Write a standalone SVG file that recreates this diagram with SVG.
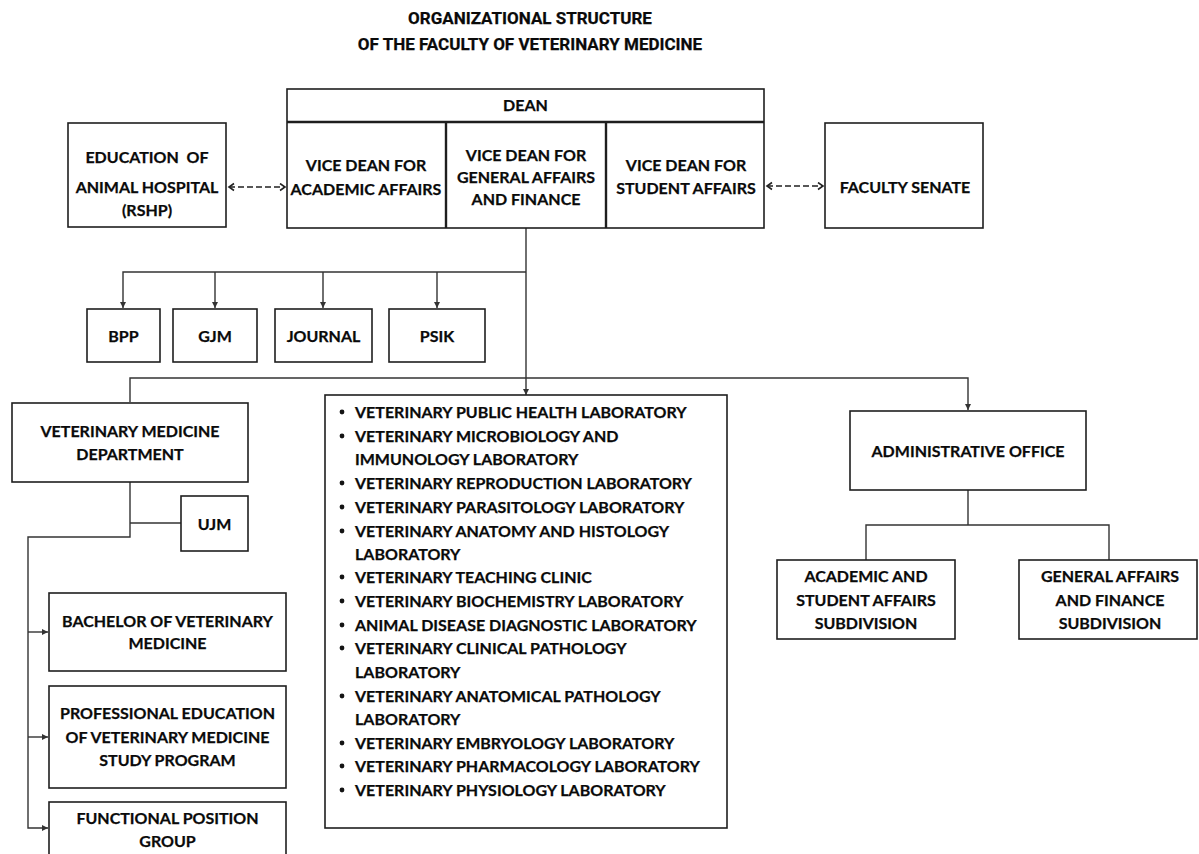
<svg xmlns="http://www.w3.org/2000/svg" width="1199" height="854" viewBox="0 0 1199 854">
<style>
text{font-family:Lato,"Liberation Sans",sans-serif;font-weight:bold;font-size:16px;fill:#0a0a0a;stroke:#0a0a0a;stroke-width:0.25;text-anchor:middle}
.list text{text-anchor:start}
.title{font-family:Roboto,"Liberation Sans",sans-serif;font-size:17px}
.box{fill:#fff;stroke:#1e1e1e;stroke-width:1.6}
.div{stroke:#1e1e1e;stroke-width:2.4}
.con{fill:none;stroke:#333;stroke-width:1.4}
.dash{fill:none;stroke:#222;stroke-width:1.7;stroke-dasharray:6 3}
</style>
<defs>
<marker id="ah" markerUnits="userSpaceOnUse" markerWidth="8" markerHeight="8" refX="6" refY="3.5" orient="auto">
<path d="M0,0.5 L6,3.5 L0,6.5 Z" fill="#333"/>
</marker>
<marker id="ch" markerUnits="userSpaceOnUse" markerWidth="9" markerHeight="10" refX="7" refY="4.5" orient="auto-start-reverse">
<path d="M2,1 L7,4.5 L2,8" fill="none" stroke="#222" stroke-width="1.6"/>
</marker>
</defs>
<rect width="1199" height="854" fill="#fff"/>
<g id="title">
<text class="title" x="530" y="24">ORGANIZATIONAL STRUCTURE</text>
<text class="title" x="530" y="50">OF THE FACULTY OF VETERINARY MEDICINE</text>
</g>
<g id="connectors">
<line class="dash" x1="229" y1="187" x2="285" y2="187" marker-start="url(#ch)" marker-end="url(#ch)"/>
<line class="dash" x1="767" y1="186" x2="823" y2="186" marker-start="url(#ch)" marker-end="url(#ch)"/>
<line class="con" x1="526" y1="228" x2="526" y2="395" marker-end="url(#ah)"/>
<polyline class="con" points="526,272 123,272 123,308" marker-end="url(#ah)"/>
<line class="con" x1="215" y1="272" x2="215" y2="308" marker-end="url(#ah)"/>
<line class="con" x1="323" y1="272" x2="323" y2="308" marker-end="url(#ah)"/>
<line class="con" x1="437" y1="272" x2="437" y2="308" marker-end="url(#ah)"/>
<polyline class="con" points="130,402 130,378 968,378 968,410" marker-end="url(#ah)"/>
<polyline class="con" points="130,482 130,537 28,537 28,828 48,828" marker-end="url(#ah)"/>
<line class="con" x1="130" y1="523" x2="181" y2="523"/>
<line class="con" x1="28" y1="632" x2="48" y2="632" marker-end="url(#ah)"/>
<line class="con" x1="28" y1="737" x2="48" y2="737" marker-end="url(#ah)"/>
<line class="con" x1="968" y1="490" x2="968" y2="525"/>
<polyline class="con" points="866,560 866,525 1109,525 1109,560"/>
</g>
<g id="dean">
<rect class="box" x="287" y="89" width="477" height="139"/>
<line class="div" x1="287" y1="122" x2="764" y2="122"/>
<line class="div" x1="446" y1="122" x2="446" y2="228"/>
<line class="div" x1="606" y1="122" x2="606" y2="228"/>
<text x="525.5" y="111">DEAN</text>
</g>
<g id="vd-academic">
<text x="366" y="171">VICE DEAN FOR</text>
<text x="366" y="195">ACADEMIC AFFAIRS</text>
</g>
<g id="vd-general">
<text x="526" y="161">VICE DEAN FOR</text>
<text x="526" y="183">GENERAL AFFAIRS</text>
<text x="526" y="205">AND FINANCE</text>
</g>
<g id="vd-student">
<text x="686" y="171">VICE DEAN FOR</text>
<text x="686" y="194">STUDENT AFFAIRS</text>
</g>
<g id="rshp">
<rect class="box" x="68" y="123" width="158" height="104"/>
<text x="147" y="163" xml:space="preserve">EDUCATION  OF</text>
<text x="147" y="193">ANIMAL HOSPITAL</text>
<text x="147" y="216">(RSHP)</text>
</g>
<g id="senate">
<rect class="box" x="825" y="123" width="158" height="105"/>
<text x="905" y="193">FACULTY SENATE</text>
</g>
<g id="bpp"><rect class="box" x="87" y="309" width="73" height="53"/><text x="123.5" y="342">BPP</text></g>
<g id="gjm"><rect class="box" x="173" y="309" width="84" height="53"/><text x="215" y="342">GJM</text></g>
<g id="journal"><rect class="box" x="275" y="309" width="97" height="53"/><text x="323.5" y="342">JOURNAL</text></g>
<g id="psik"><rect class="box" x="389" y="309" width="96" height="53"/><text x="437" y="342">PSIK</text></g>
<g id="vmd">
<rect class="box" x="12" y="403" width="236" height="79"/>
<text x="130" y="437">VETERINARY MEDICINE</text>
<text x="130" y="460">DEPARTMENT</text>
</g>
<g id="ujm"><rect class="box" x="181" y="496" width="67" height="55"/><text x="214.5" y="530">UJM</text></g>
<g id="bachelor">
<rect class="box" x="49" y="593" width="237" height="78"/>
<text x="167.5" y="627">BACHELOR OF VETERINARY</text>
<text x="167.5" y="649">MEDICINE</text>
</g>
<g id="professional">
<rect class="box" x="49" y="686" width="237" height="102"/>
<text x="167.5" y="719">PROFESSIONAL EDUCATION</text>
<text x="167.5" y="743">OF VETERINARY MEDICINE</text>
<text x="167.5" y="766">STUDY PROGRAM</text>
</g>
<g id="functional">
<rect class="box" x="49" y="802" width="237" height="70"/>
<text x="167.5" y="824">FUNCTIONAL POSITION</text>
<text x="167.5" y="847">GROUP</text>
</g>
<g id="labs" class="list">
<rect class="box" x="325" y="395" width="402" height="433"/>
<g fill="#141414">
<circle cx="342" cy="412" r="2.4"/><circle cx="342" cy="436" r="2.4"/><circle cx="342" cy="483" r="2.4"/><circle cx="342" cy="507" r="2.4"/><circle cx="342" cy="531" r="2.4"/><circle cx="342" cy="577" r="2.4"/><circle cx="342" cy="601" r="2.4"/><circle cx="342" cy="625" r="2.4"/><circle cx="342" cy="648" r="2.4"/><circle cx="342" cy="696" r="2.4"/><circle cx="342" cy="743" r="2.4"/><circle cx="342" cy="766" r="2.4"/><circle cx="342" cy="790" r="2.4"/>
</g>
<text x="355" y="418">VETERINARY PUBLIC HEALTH LABORATORY</text>
<text x="355" y="442">VETERINARY MICROBIOLOGY AND</text>
<text x="355" y="465">IMMUNOLOGY LABORATORY</text>
<text x="355" y="489">VETERINARY REPRODUCTION LABORATORY</text>
<text x="355" y="513">VETERINARY PARASITOLOGY LABORATORY</text>
<text x="355" y="537">VETERINARY ANATOMY AND HISTOLOGY</text>
<text x="355" y="560">LABORATORY</text>
<text x="355" y="583">VETERINARY TEACHING CLINIC</text>
<text x="355" y="607">VETERINARY BIOCHEMISTRY LABORATORY</text>
<text x="355" y="631">ANIMAL DISEASE DIAGNOSTIC LABORATORY</text>
<text x="355" y="654">VETERINARY CLINICAL PATHOLOGY</text>
<text x="355" y="678">LABORATORY</text>
<text x="355" y="702">VETERINARY ANATOMICAL PATHOLOGY</text>
<text x="355" y="725">LABORATORY</text>
<text x="355" y="749">VETERINARY EMBRYOLOGY LABORATORY</text>
<text x="355" y="772">VETERINARY PHARMACOLOGY LABORATORY</text>
<text x="355" y="796">VETERINARY PHYSIOLOGY LABORATORY</text>
</g>
<g id="admin">
<rect class="box" x="850" y="411" width="236" height="79"/>
<text x="968" y="457">ADMINISTRATIVE OFFICE</text>
</g>
<g id="academic-sub">
<rect class="box" x="777" y="560" width="178" height="79"/>
<text x="866" y="582">ACADEMIC AND</text>
<text x="866" y="606">STUDENT AFFAIRS</text>
<text x="866" y="629">SUBDIVISION</text>
</g>
<g id="general-sub">
<rect class="box" x="1019" y="560" width="178" height="79"/>
<text x="1110" y="582">GENERAL AFFAIRS</text>
<text x="1110" y="606">AND FINANCE</text>
<text x="1110" y="629">SUBDIVISION</text>
</g>
</svg>
